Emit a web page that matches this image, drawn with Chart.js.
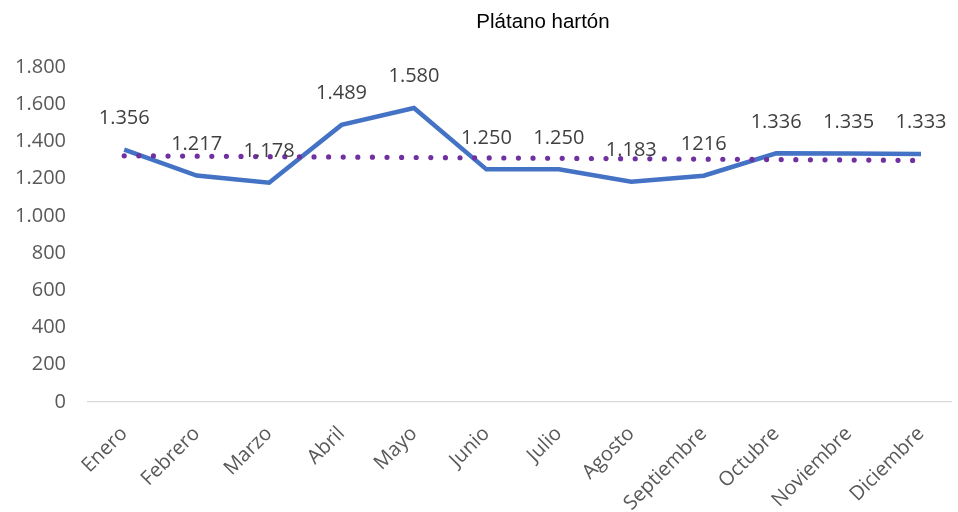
<!DOCTYPE html>
<html>
<head>
<meta charset="utf-8">
<script src="https://cdn.jsdelivr.net/npm/chart.js@4.4.1/dist/chart.umd.min.js"></script>
<style>
  html, body { margin: 0; padding: 0; background: #ffffff; overflow: hidden; }
  #wrap { width: 958px; height: 512px; position: relative; }
</style>
</head>
<body>
<div id="wrap"><canvas id="c" width="958" height="512"></canvas></div>
<script>
const chartTitle = 'Plátano hartón';
const months = ['Enero','Febrero','Marzo','Abril','Mayo','Junio','Julio','Agosto','Septiembre','Octubre','Noviembre','Diciembre'];
const prices = [1356, 1217, 1178, 1489, 1580, 1250, 1250, 1183, 1216, 1336, 1335, 1333];
const priceLabels = ['1.356','1.217','1.178','1.489','1.580','1.250','1.250','1.183','1216','1.336','1.335','1.333'];
const trendStart = 1323;
const trendEnd = 1298;
const yTicks = [0, 200, 400, 600, 800, 1000, 1200, 1400, 1600, 1800];

function fmt(v) {
  return String(v).replace(/\B(?=(\d{3})+(?!\d))/g, '.');
}

const labelPlugin = {
  id: 'labels',
  afterDatasetsDraw(chart) {
    const ctx = chart.ctx;
    const meta = chart.getDatasetMeta(0);
    ctx.save();
    ctx.font = '20px "Open Sans"';
    ctx.fillStyle = '#404040';
    ctx.textAlign = 'center';
    ctx.textBaseline = 'middle';
    meta.data.forEach((pt, i) => {
      ctx.fillText(priceLabels[i], pt.x, pt.y - 31.5);
    });
    ctx.restore();
  },
  afterDraw(chart) {
    const ctx = chart.ctx;
    ctx.save();
    ctx.font = '20.5px "Liberation Sans"';
    ctx.fillStyle = '#000000';
    ctx.textAlign = 'center';
    ctx.textBaseline = 'middle';
    ctx.fillText(chartTitle, 543, 22);
    ctx.restore();
  }
};

new Chart(document.getElementById('c'), {
  type: 'line',
  data: {
    datasets: [
      {
        label: 'Precio',
        data: prices.map((v, i) => ({ x: i, y: v })),
        borderColor: '#4472C4',
        borderWidth: 4.5,
        pointRadius: 0,
        tension: 0,
        borderJoinStyle: 'miter',
        order: 2
      },
      {
        label: 'Tendencia',
        data: [{ x: 0, y: trendStart }, { x: months.length - 1, y: trendEnd }],
        borderColor: '#7030A0',
        borderWidth: 5.2,
        borderDash: [0, 14.6],
        borderCapStyle: 'round',
        pointRadius: 0,
        order: 1
      }
    ]
  },
  plugins: [labelPlugin],
  options: {
    responsive: false,
    animation: false,
    layout: { padding: { top: 67, left: 0, right: 0, bottom: 0 } },
    plugins: {
      legend: { display: false },
      title: { display: false },
      tooltip: { enabled: false }
    },
    scales: {
      x: {
        type: 'linear',
        min: -0.5,
        max: 11.42,
        afterBuildTicks(scale) {
          scale.ticks = months.map((_, i) => ({ value: i }));
        },
        afterFit(scale) { scale.height = 110; },
        grid: { display: false, drawTicks: false },
        border: { display: true, color: '#d9d9d9', width: 1.3 },
        ticks: {
          autoSkip: false,
          minRotation: 45,
          maxRotation: 45,
          padding: 20,
          color: '#595959',
          font: { family: '"Open Sans"', size: 20 },
          callback: (v) => months[v]
        }
      },
      y: {
        min: 0,
        max: 1800,
        afterBuildTicks(scale) {
          scale.ticks = yTicks.map(v => ({ value: v }));
        },
        afterFit(scale) { scale.width = 88; },
        grid: { display: false, drawTicks: false },
        border: { display: false },
        ticks: {
          padding: 22,
          color: '#595959',
          font: { family: '"Open Sans"', size: 20 },
          callback: (v) => fmt(v)
        }
      }
    }
  }
});
</script>
</body>
</html>
